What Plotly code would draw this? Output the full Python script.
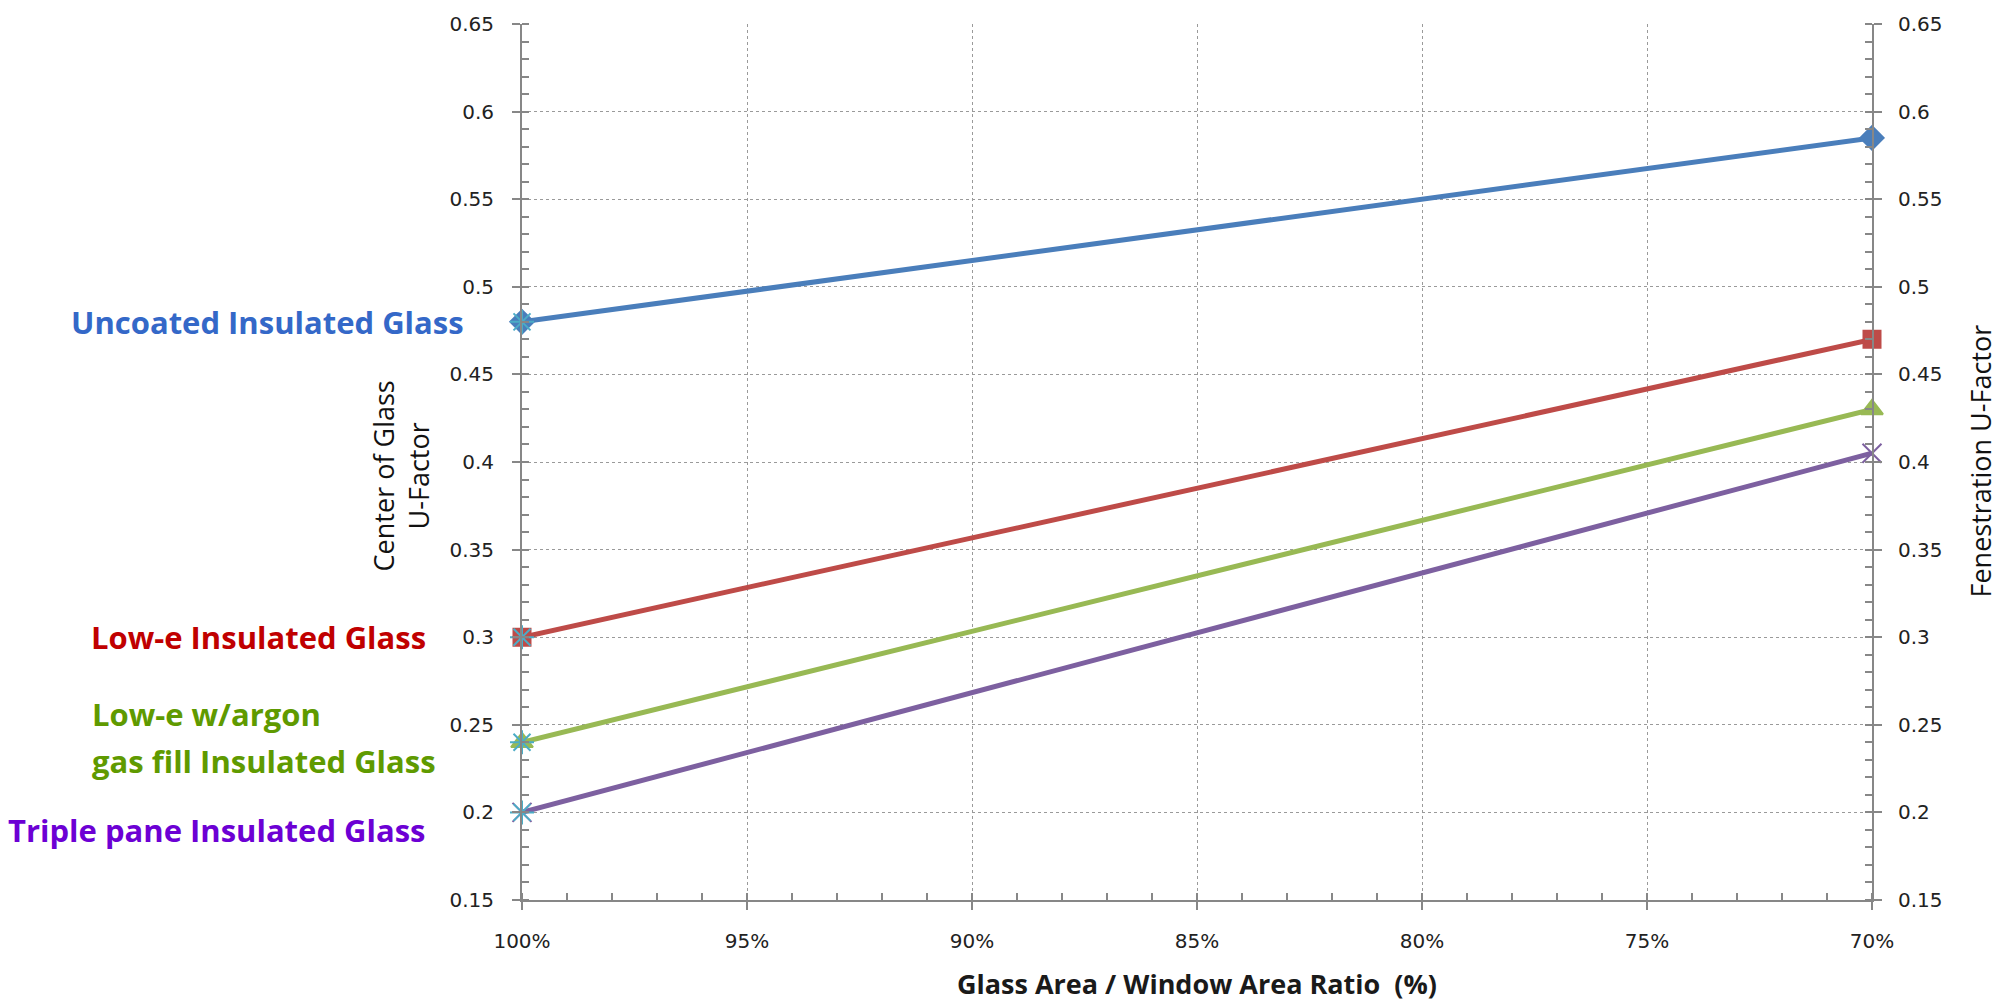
import plotly.graph_objects as go

# glass area / window area ratio (%), axis runs from 100 down to 70
glass_ratio = [100, 70]

uncoated = [0.48, 0.585]
low_e = [0.30, 0.47]
low_e_argon = [0.24, 0.43]
triple_pane = [0.20, 0.405]

# center-of-glass values, drawn at 100%
cog_ratio = [100, 100, 100, 100]
center_of_glass = [0.48, 0.30, 0.24, 0.20]

label_names = ["Uncoated Insulated Glass", "Low-e Insulated Glass",
               "Low-e w/argon", "gas fill Insulated Glass",
               "Triple pane Insulated Glass"]

W, H = 2013, 1001
L, T = 522, 17
R = W - 1872
B = H - 900
PW, PH = W - L - R, H - T - B


def px_x(px):
    return (px - L) / PW


def px_y(py):
    return (H - B - py) / PH


series = [
    (uncoated, "#4A7EBB", "diamond", 18),
    (low_e, "#BE4B48", "square", 17),
    (low_e_argon, "#98B954", "triangle-up", 19),
    (triple_pane, "#7D60A0", "x-thin-open", 19),
]

fig = go.Figure()

for vals, color, symbol, size in series:
    fig.add_trace(go.Scatter(
        x=glass_ratio, y=vals, mode="lines+markers", cliponaxis=False,
        line=dict(color=color, width=5),
        marker=dict(symbol=symbol, size=size, color=color,
                    line=dict(color=color, width=2)),
        showlegend=False, hoverinfo="skip"
    ))

fig.add_trace(go.Scatter(
    x=cog_ratio, y=center_of_glass, mode="markers", cliponaxis=False,
    marker=dict(symbol="asterisk-open", size=20, color="#4BACC6",
                line=dict(color="#4BACC6", width=2)),
    showlegend=False, hoverinfo="skip"
))

# invisible copy on the right axis so it is drawn
fig.add_trace(go.Scatter(
    x=glass_ratio, y=uncoated, yaxis="y2", mode="markers",
    marker=dict(opacity=0), showlegend=False, hoverinfo="skip"
))

tick_font = dict(family="DejaVu Sans", size=20, color="#222222")
axis_gray = "#878787"
grid = dict(showgrid=True, gridcolor="#9a9a9a", gridwidth=1, griddash="dot")

fig.update_layout(
    width=W, height=H,
    margin=dict(l=L, r=R, t=T, b=B),
    paper_bgcolor="white", plot_bgcolor="white",
    xaxis=dict(
        range=[100, 70], tick0=70, dtick=5, ticksuffix="%",
        showline=True, linecolor=axis_gray, linewidth=2,
        ticks="outside", ticklen=8, tickcolor=axis_gray, tickwidth=2,
        minor=dict(dtick=1, ticks="inside", ticklen=7, tickcolor=axis_gray,
                   tickwidth=2, showgrid=False),
        tickfont=tick_font, ticklabelstandoff=14, zeroline=False, **grid
    ),
    yaxis=dict(
        range=[0.15, 0.65], tick0=0.15, dtick=0.05,
        showline=True, linecolor=axis_gray, linewidth=2,
        ticks="outside", ticklen=8, tickcolor=axis_gray, tickwidth=2,
        minor=dict(dtick=0.01, ticks="inside", ticklen=7, tickcolor=axis_gray,
                   tickwidth=2, showgrid=False),
        tickfont=tick_font, ticklabelstandoff=14, zeroline=False, **grid
    ),
    yaxis2=dict(
        range=[0.15, 0.65], tick0=0.15, dtick=0.05, overlaying="y", side="right",
        showline=True, linecolor=axis_gray, linewidth=2,
        ticks="outside", ticklen=8, tickcolor=axis_gray, tickwidth=2,
        minor=dict(dtick=0.01, ticks="inside", ticklen=7, tickcolor=axis_gray,
                   tickwidth=2, showgrid=False),
        tickfont=tick_font, ticklabelstandoff=12, zeroline=False, showgrid=False
    ),
)

label_font = dict(family="Open Sans", size=31)
ann = []
ann.append(dict(text="<b>" + label_names[0] + "</b>", xref="paper", yref="y",
                x=px_x(466), y=center_of_glass[0], xanchor="right", yanchor="middle",
                showarrow=False, font=dict(color="#3468C8", **label_font)))
ann.append(dict(text="<b>" + label_names[1] + "</b>", xref="paper", yref="y",
                x=px_x(428), y=center_of_glass[1], xanchor="right", yanchor="middle",
                showarrow=False, font=dict(color="#C00000", **label_font)))
ann.append(dict(text="<b>" + label_names[2] + "</b>", xref="paper", yref="y",
                x=px_x(90), y=center_of_glass[2], yshift=28, xanchor="left", yanchor="middle",
                showarrow=False, font=dict(color="#5F9A00", **label_font)))
ann.append(dict(text="<b>" + label_names[3] + "</b>", xref="paper", yref="y",
                x=px_x(90), y=center_of_glass[2], yshift=-19, xanchor="left", yanchor="middle",
                showarrow=False, font=dict(color="#5F9A00", **label_font)))
ann.append(dict(text="<b>" + label_names[4] + "</b>", xref="paper", yref="y",
                x=px_x(428), y=center_of_glass[3], yshift=-18, xanchor="right", yanchor="middle",
                showarrow=False, font=dict(color="#6C00D4", **label_font)))

title_font = dict(family="Open Sans", size=27, color="#111111")
ann.append(dict(text="Center of Glass<br>U-Factor", textangle=-90,
                xref="paper", yref="paper", x=px_x(401), y=px_y(473),
                xanchor="center", yanchor="middle", showarrow=False, font=title_font))
ann.append(dict(text="Fenestration U-Factor", textangle=-90,
                xref="paper", yref="paper", x=px_x(1981), y=px_y(458),
                xanchor="center", yanchor="middle", showarrow=False, font=title_font))
ann.append(dict(text="<b>Glass Area / Window Area Ratio  (%)</b>",
                xref="paper", yref="paper", x=px_x(1197), y=px_y(984),
                xanchor="center", yanchor="middle", showarrow=False,
                font=dict(family="Open Sans", size=27, color="#1a1a1a")))

fig.update_layout(annotations=ann)

# drop the default body margin so the figure fills the window exactly
fig.write_html("out.html",
               config={"displayModeBar": False},
               post_script="document.body.style.margin='0';"
                           "document.body.style.overflow='hidden';")
